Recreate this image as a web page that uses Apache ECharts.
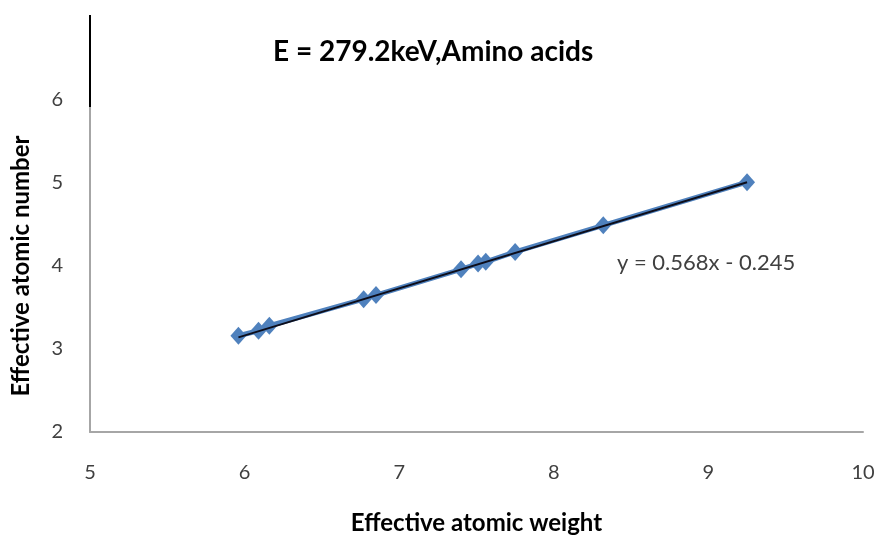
<!DOCTYPE html>
<html>
<head>
<meta charset="utf-8">
<script src="https://cdn.jsdelivr.net/npm/echarts@6/dist/echarts.min.js"></script>
<style>
html,body{margin:0;padding:0;background:#fff;}
#chart{width:878px;height:535px;}
</style>
</head>
<body>
<div id="chart"></div>
<script>
// Data
const atomicWeight = [5.96, 6.09, 6.16, 6.77, 6.85, 7.40, 7.51, 7.56, 7.75, 8.32, 9.25];
const atomicNumber = [3.16, 3.22, 3.28, 3.60, 3.65, 3.96, 4.03, 4.05, 4.17, 4.49, 5.01];
const xTicks = [5, 6, 7, 8, 9, 10];
const yTicks = [2, 3, 4, 5, 6];
const trendSlope = 0.568;
const trendIntercept = -0.245;
const titleText = 'E = 279.2keV,Amino acids';
const equationText = 'y = 0.568x - 0.245';

const points = atomicWeight.map((x, i) => [x, atomicNumber[i]]);
const xMinData = Math.min(...atomicWeight);
const xMaxData = Math.max(...atomicWeight);
const trend = [
  [xMinData, trendSlope * xMinData + trendIntercept],
  [xMaxData, trendSlope * xMaxData + trendIntercept]
];

const font = 'Lato, "Open Sans", sans-serif';
const chart = echarts.init(document.getElementById('chart'), null, {renderer: 'canvas'});
chart.setOption({
  animation: false,
  backgroundColor: '#ffffff',
  title: [
    {
      text: titleText,
      left: 268,
      top: 33,
      textStyle: {fontFamily: font, fontSize: 28, fontWeight: 'bold', color: '#000'}
    },
    {
      text: equationText,
      left: 612,
      top: 247,
      textStyle: {fontFamily: font, fontSize: 22, fontWeight: 'normal', color: '#404040'}
    }
  ],
  grid: {left: 90, right: 15, top: 100, bottom: 103, containLabel: false, outerBoundsMode: 'none'},
  xAxis: {
    type: 'value',
    min: xTicks[0],
    max: xTicks[xTicks.length - 1],
    interval: 1,
    name: 'Effective atomic weight',
    nameLocation: 'middle',
    nameGap: 79,
    nameTextStyle: {fontFamily: font, fontSize: 24, fontWeight: 'bold', color: '#000'},
    axisLine: {show: true, lineStyle: {color: '#a6a6a6', width: 2}},
    axisTick: {show: false},
    splitLine: {show: false},
    axisLabel: {margin: 31, fontFamily: font, fontSize: 20, color: '#404040'}
  },
  yAxis: {
    type: 'value',
    min: yTicks[0],
    max: yTicks[yTicks.length - 1],
    interval: 1,
    name: 'Effective atomic number',
    nameLocation: 'middle',
    nameGap: 57,
    nameTextStyle: {fontFamily: font, fontSize: 24, fontWeight: 'bold', color: '#000'},
    axisLine: {show: true, lineStyle: {color: '#a6a6a6', width: 2}},
    axisTick: {show: false},
    splitLine: {show: false},
    axisLabel: {margin: 27, fontFamily: font, fontSize: 20, color: '#404040'}
  },
  graphic: [
    {
      type: 'line',
      shape: {x1: 90, y1: 15, x2: 90, y2: 107},
      style: {stroke: '#000', lineWidth: 2},
      z: 100
    }
  ],
  series: [
    {
      name: 'Amino acids',
      type: 'line',
      data: points,
      symbol: 'diamond',
      symbolSize: [16, 18],
      showSymbol: true,
      lineStyle: {color: '#4f81bd', width: 5},
      itemStyle: {color: '#4f81bd'},
      z: 2
    },
    {
      name: 'Trend',
      type: 'line',
      data: trend,
      symbol: 'none',
      lineStyle: {color: '#0d0d1a', width: 2},
      z: 3
    }
  ]
});
</script>
</body>
</html>
